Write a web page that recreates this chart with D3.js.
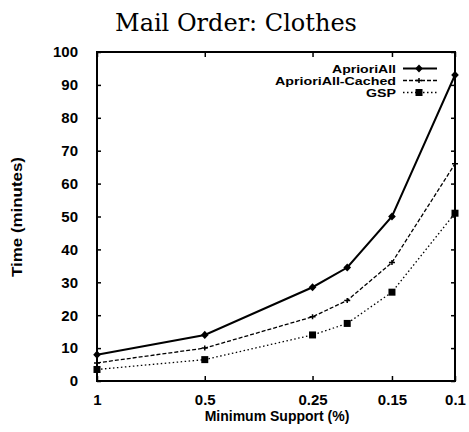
<!DOCTYPE html>
<html>
<head>
<meta charset="utf-8">
<script src="https://cdn.jsdelivr.net/npm/d3@7"></script>
<style>
  body { margin: 0; background: #fff; }
  svg { display: block; }
  text { fill: #000; }
</style>
</head>
<body>
<svg id="chart" width="469" height="432"></svg>
<script>
// values
const supports = [1, 0.5, 0.25, 0.2, 0.15, 0.1];
const xTicks = [1, 0.5, 0.25, 0.15, 0.1];
const yTicks = [0, 10, 20, 30, 40, 50, 60, 70, 80, 90, 100];
const seriesNames = ['AprioriAll', 'AprioriAll-Cached', 'GSP'];
const aprioriAll = [8, 14, 28.5, 34.5, 50, 93];
const aprioriCached = [5.5, 10, 19.5, 24.5, 36, 66];
const gsp = [3.5, 6.5, 14, 17.5, 27, 51];

const svg = d3.select('#chart');
const plotLeft = 97, plotRight = 455, plotTop = 52, plotBottom = 381;

const x = d3.scaleLog().domain([1, 0.1]).range([plotLeft, plotRight]);
const y = d3.scaleLinear().domain([0, 100]).range([plotBottom, plotTop]);

const sansBold = 'font-family: "Liberation Sans", Arial, sans-serif; font-weight: bold;';

// title
svg.append('text')
  .attr('x', 236).attr('y', 31)
  .attr('text-anchor', 'middle')
  .attr('style', 'font-family: "DejaVu Serif", serif; font-size: 24px;')
  .text('Mail Order: Clothes');

// frame
svg.append('rect')
  .attr('x', plotLeft).attr('y', plotTop)
  .attr('width', plotRight - plotLeft).attr('height', plotBottom - plotTop)
  .attr('fill', 'none').attr('stroke', '#000').attr('stroke-width', 2);

// axes, ticks drawn inward
const axisStyle = g => {
  g.select('.domain').remove();
  g.selectAll('line').attr('stroke', '#000').attr('stroke-width', 1.5);
  g.selectAll('text').attr('style', sansBold + 'font-size: 15px;');
};

svg.append('g')
  .attr('transform', `translate(0,${plotBottom})`)
  .call(d3.axisBottom(x).tickValues(xTicks).tickFormat(d => String(d)).tickSizeInner(-5).tickPadding(13))
  .call(axisStyle);

svg.append('g')
  .attr('transform', `translate(0,${plotTop})`)
  .call(d3.axisTop(x).tickValues(xTicks).tickFormat('').tickSizeInner(-5))
  .call(axisStyle);

svg.append('g')
  .attr('transform', `translate(${plotLeft},0)`)
  .call(d3.axisLeft(y).tickValues(yTicks).tickSizeInner(-4).tickPadding(19))
  .call(axisStyle);

svg.append('g')
  .attr('transform', `translate(${plotRight},0)`)
  .call(d3.axisRight(y).tickValues(yTicks).tickFormat('').tickSizeInner(-4))
  .call(axisStyle);

// axis titles
svg.append('text')
  .attr('x', 277).attr('y', 421)
  .attr('text-anchor', 'middle')
  .attr('style', sansBold + 'font-size: 14px;')
  .text('Minimum Support (%)');

svg.append('text')
  .attr('transform', 'translate(22,217) rotate(-90)')
  .attr('text-anchor', 'middle')
  .attr('textLength', 120)
  .attr('lengthAdjust', 'spacingAndGlyphs')
  .attr('style', sansBold + 'font-size: 14px;')
  .text('Time (minutes)');

// series
const series = [
  { name: seriesNames[0], values: aprioriAll, width: 2, dash: null, marker: 'diamond' },
  { name: seriesNames[1], values: aprioriCached, width: 1.3, dash: '4,2', marker: 'plus' },
  { name: seriesNames[2], values: gsp, width: 1.3, dash: '1.5,2.5', marker: 'square' }
];

const line = d3.line().x(d => x(d[0])).y(d => y(d[1]));

function drawMarker(g, kind, cx, cy) {
  if (kind === 'diamond') {
    g.append('path')
      .attr('d', d3.symbol(d3.symbolDiamond, 30)())
      .attr('transform', `translate(${cx},${cy}) scale(1.3,0.8)`)
      .attr('fill', '#000');
  } else if (kind === 'plus') {
    g.append('path')
      .attr('d', `M${cx - 3},${cy}H${cx + 3}M${cx},${cy - 2.5}V${cy + 2.5}`)
      .attr('stroke', '#000').attr('stroke-width', 1.5);
  } else {
    g.append('rect')
      .attr('x', cx - 3.5).attr('y', cy - 3.5)
      .attr('width', 7).attr('height', 7)
      .attr('fill', '#000');
  }
}

series.forEach(s => {
  const pts = supports.map((sp, i) => [sp, s.values[i]]);
  const g = svg.append('g');
  g.append('path')
    .attr('d', line(pts))
    .attr('fill', 'none')
    .attr('stroke', '#000')
    .attr('stroke-width', s.width)
    .attr('stroke-dasharray', s.dash);
  pts.forEach(p => drawMarker(g, s.marker, x(p[0]), y(p[1])));
});

// legend
const legendWidths = [64, 121, 30];
const legend = svg.append('g');
series.forEach((s, i) => {
  const ly = 68.5 + i * 12;
  legend.append('text')
    .attr('x', 396).attr('y', ly + 4)
    .attr('text-anchor', 'end')
    .attr('textLength', legendWidths[i])
    .attr('lengthAdjust', 'spacingAndGlyphs')
    .attr('style', sansBold + 'font-size: 11px;')
    .text(s.name);
  legend.append('line')
    .attr('x1', 403).attr('x2', 437)
    .attr('y1', ly).attr('y2', ly)
    .attr('stroke', '#000')
    .attr('stroke-width', s.width)
    .attr('stroke-dasharray', s.dash);
  drawMarker(legend, s.marker, 419, ly);
});
</script>
</body>
</html>
